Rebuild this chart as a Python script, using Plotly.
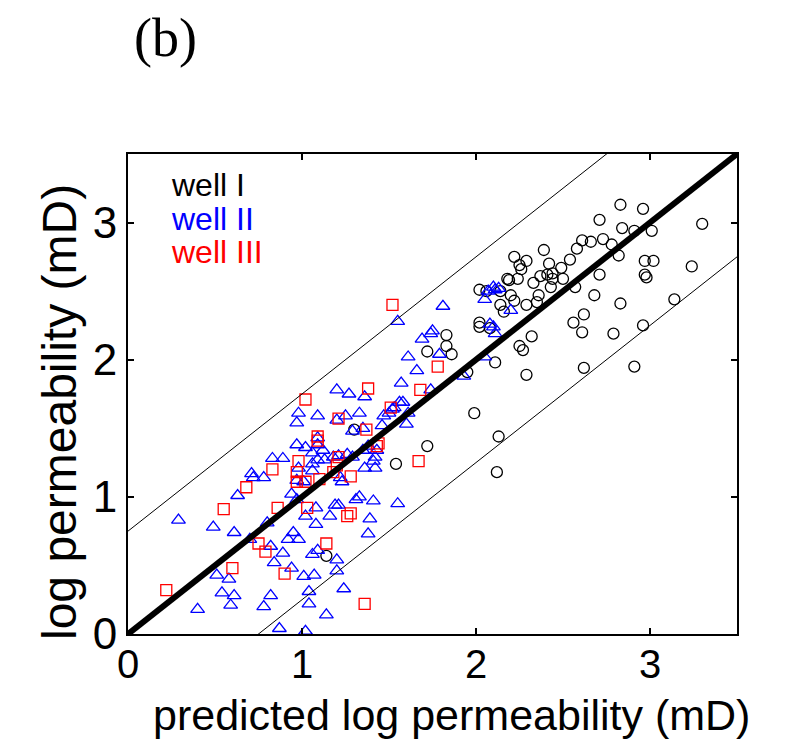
import plotly.graph_objects as go

# ---- data ----
well1_x = [2.83, 2.96, 2.71, 3.30, 2.84, 2.91, 3.01, 2.73, 2.61, 2.66, 2.78, 2.58, 2.39, 2.22, 2.29,
           2.25, 2.42, 2.54, 2.49, 2.82, 2.97, 3.02, 3.24, 2.97, 2.98, 2.26, 2.37, 2.41, 2.44, 2.50,
           2.33, 2.43, 2.71, 2.18, 2.24, 2.02, 2.20, 2.36, 2.29, 2.14, 2.57, 2.68, 2.83, 3.14, 2.62,
           2.56, 2.61, 2.79, 2.96, 2.02, 2.02, 1.83, 2.32, 2.19, 2.06, 2.14, 2.22, 2.16, 2.35, 2.08,
           1.72, 1.83, 1.86, 2.11, 2.29, 2.25, 2.27, 1.99, 2.13, 2.12, 1.72, 1.54, 1.14, 2.62, 2.91,
           1.95, 2.44, 1.30]
well1_y = [3.13, 3.10, 3.02, 2.99, 2.96, 2.94, 2.94, 2.88, 2.87, 2.86, 2.84, 2.81, 2.80, 2.75, 2.72,
           2.69, 2.70, 2.73, 2.67, 2.76, 2.72, 2.72, 2.68, 2.62, 2.60, 2.66, 2.61, 2.62, 2.63, 2.59,
           2.56, 2.53, 2.62, 2.59, 2.59, 2.51, 2.47, 2.47, 2.40, 2.40, 2.53, 2.47, 2.41, 2.44, 2.33,
           2.27, 2.20, 2.19, 2.25, 2.27, 2.24, 2.18, 2.17, 2.58, 2.50, 2.50, 2.43, 2.35, 2.42, 2.23,
           2.06, 2.10, 2.04, 1.98, 1.89, 2.10, 2.07, 1.61, 1.44, 1.18, 1.37, 1.24, 0.57, 1.94, 1.95,
           1.91, 2.59, 1.49]

well2_x = [0.29, 0.49, 0.61, 0.70, 0.63, 0.71, 0.72, 0.78, 0.83, 0.89, 0.98, 0.97, 1.09, 1.20, 1.27,
           1.36, 1.25, 1.33, 1.20, 1.29, 0.97, 1.02, 1.09, 1.09, 1.06, 1.12, 1.09, 1.13, 1.06, 1.18,
           1.21, 1.26, 1.29, 1.35, 1.38, 1.42, 1.36, 1.42, 1.46, 1.47, 1.52, 1.58, 1.61, 1.60, 1.57,
           1.66, 1.61, 1.74, 1.69, 1.74, 1.79, 0.97, 1.01, 0.98, 0.94, 0.97, 1.06, 1.22, 1.23, 0.80,
           0.95, 0.98, 0.92, 1.02, 1.08, 1.16, 1.19, 1.21, 1.31, 1.33, 1.41, 1.39, 1.38, 1.55, 0.82,
           0.89, 0.84, 0.94, 1.01, 1.07, 1.06, 1.09, 1.20, 1.20, 1.24, 0.51, 0.58, 0.54, 0.61, 0.59,
           0.40, 0.82, 0.78, 1.04, 1.04, 1.14, 0.87, 1.02, 1.81, 1.55, 1.75, 1.93, 2.05, 2.11, 2.08,
           2.05, 2.11, 2.20, 1.56, 1.53, 1.50, 1.35, 1.43, 1.41, 2.10, 2.13, 2.07, 2.10, 1.08]
well2_y = [0.83, 0.78, 0.74, 0.69, 1.01, 1.17, 1.14, 1.14, 1.28, 1.28, 1.61, 1.54, 1.59, 1.78, 1.75,
           1.73, 1.59, 1.61, 1.56, 1.48, 1.38, 1.36, 1.43, 1.38, 1.32, 1.34, 1.27, 1.27, 1.24, 1.29,
           1.30, 1.31, 1.29, 1.34, 1.37, 1.29, 1.21, 1.21, 1.52, 1.59, 1.64, 1.69, 1.61, 1.53, 1.83,
           1.92, 2.02, 1.78, 2.15, 2.19, 2.04, 1.12, 1.11, 1.21, 1.02, 0.98, 1.19, 1.14, 1.11, 0.81,
           0.74, 0.69, 0.69, 0.86, 0.80, 0.86, 0.94, 0.94, 0.98, 1.00, 0.97, 0.84, 0.73, 0.95, 0.64,
           0.59, 0.52, 0.48, 0.42, 0.43, 0.58, 0.61, 0.54, 0.46, 0.33, 0.43, 0.40, 0.30, 0.28, 0.21,
           0.18, 0.28, 0.20, 0.31, 0.22, 0.14, 0.04, 0.02, 2.39, 2.28, 2.21, 1.88, 2.02, 2.19, 2.26,
           2.44, 2.51, 2.36, 1.69, 1.65, 1.61, 1.50, 1.34, 1.26, 2.53, 2.52, 2.50, 2.24, 0.92]

well3_x = [0.22, 0.60, 0.75, 0.79, 0.90, 0.55, 0.68, 0.83, 0.86, 1.03, 1.02, 1.38, 1.21, 1.37, 1.09,
           1.09, 0.98, 0.97, 0.97, 1.02, 1.10, 1.18, 1.20, 1.21, 1.28, 1.26, 1.28, 1.14, 1.36, 1.43,
           1.44, 1.51, 1.68, 1.78, 1.67, 1.52]
well3_y = [0.32, 0.48, 0.66, 0.60, 0.44, 0.91, 1.07, 1.20, 0.92, 0.92, 1.71, 1.79, 1.57, 1.49, 1.44,
           1.41, 1.26, 1.18, 1.11, 1.11, 1.13, 1.18, 1.23, 1.29, 1.15, 0.86, 0.88, 0.66, 0.22, 1.37,
           1.39, 1.65, 1.78, 1.95, 1.26, 2.40]

axis_range = [0, 3.5]
tick_vals = [0, 1, 2, 3]
band_offsets = [0.75, -0.75]
legend_labels = ["well I", "well II", "well III"]
legend_colors = ["black", "blue", "red"]
x_title = "predicted log permeability (mD)"
y_title = "log permeability (mD)"

fig = go.Figure()
fig.add_trace(go.Scatter(x=well1_x, y=well1_y, mode="markers",
                         marker=dict(symbol="circle-open", size=11, color="black",
                                     line=dict(width=1.3, color="black"))))
fig.add_trace(go.Scatter(x=well2_x, y=well2_y, mode="markers",
                         marker=dict(symbol="triangle-up-open", size=12, color="blue",
                                     line=dict(width=1.3, color="blue"))))
fig.add_trace(go.Scatter(x=well3_x, y=well3_y, mode="markers",
                         marker=dict(symbol="square-open", size=11, color="red",
                                     line=dict(width=1.3, color="red"))))

# 1:1 line and +/- band lines
fig.add_trace(go.Scatter(x=axis_range, y=axis_range, mode="lines",
                         line=dict(color="black", width=6)))
for off in band_offsets:
    fig.add_trace(go.Scatter(x=axis_range, y=[v + off for v in axis_range], mode="lines",
                             line=dict(color="black", width=1)))

axis_common = dict(range=axis_range, tickvals=tick_vals, showline=True, mirror="ticks",
                   linecolor="black", linewidth=2, ticks="inside", ticklen=6, tickwidth=1.5,
                   tickcolor="black", showgrid=False, zeroline=False)

fig.update_layout(
    width=790, height=740,
    margin=dict(l=128, r=53, t=154, b=106),
    paper_bgcolor="white", plot_bgcolor="white",
    showlegend=False,
    xaxis=dict(**axis_common, ticklabelstandoff=-6,
               tickfont=dict(family="Liberation Sans, Arial", size=40, color="black")),
    yaxis=dict(**axis_common,
               tickfont=dict(family="Liberation Sans, Arial", size=44, color="black")),
)

# axis titles as annotations for exact placement
fig.add_annotation(x=(451 - 128) / 609, y=(634 - 715) / 480, xref="paper", yref="paper",
                   text=x_title, showarrow=False, xanchor="center", yanchor="middle",
                   font=dict(family="Liberation Sans, Arial", size=43, color="black"))
fig.add_annotation(x=(59 - 128) / 609, y=(634 - 412) / 480, xref="paper", yref="paper",
                   text=y_title, showarrow=False, xanchor="center", yanchor="middle",
                   textangle=-90,
                   font=dict(family="Liberation Sans, Arial", size=48, color="black"))

for i, (lab, col) in enumerate(zip(legend_labels, legend_colors)):
    fig.add_annotation(x=0.068, y=0.935 - i * 0.07, xref="paper", yref="paper",
                       text=lab, showarrow=False, xanchor="left", yanchor="middle",
                       font=dict(family="Liberation Sans, Arial", size=32, color=col))

fig.add_annotation(x=(165 - 128) / 609, y=(634 - 38) / 480, xref="paper", yref="paper",
                   text="(b)", showarrow=False, xanchor="center", yanchor="middle",
                   font=dict(family="Liberation Serif, Times New Roman", size=54, color="black"))

fig.write_html("out.html")
